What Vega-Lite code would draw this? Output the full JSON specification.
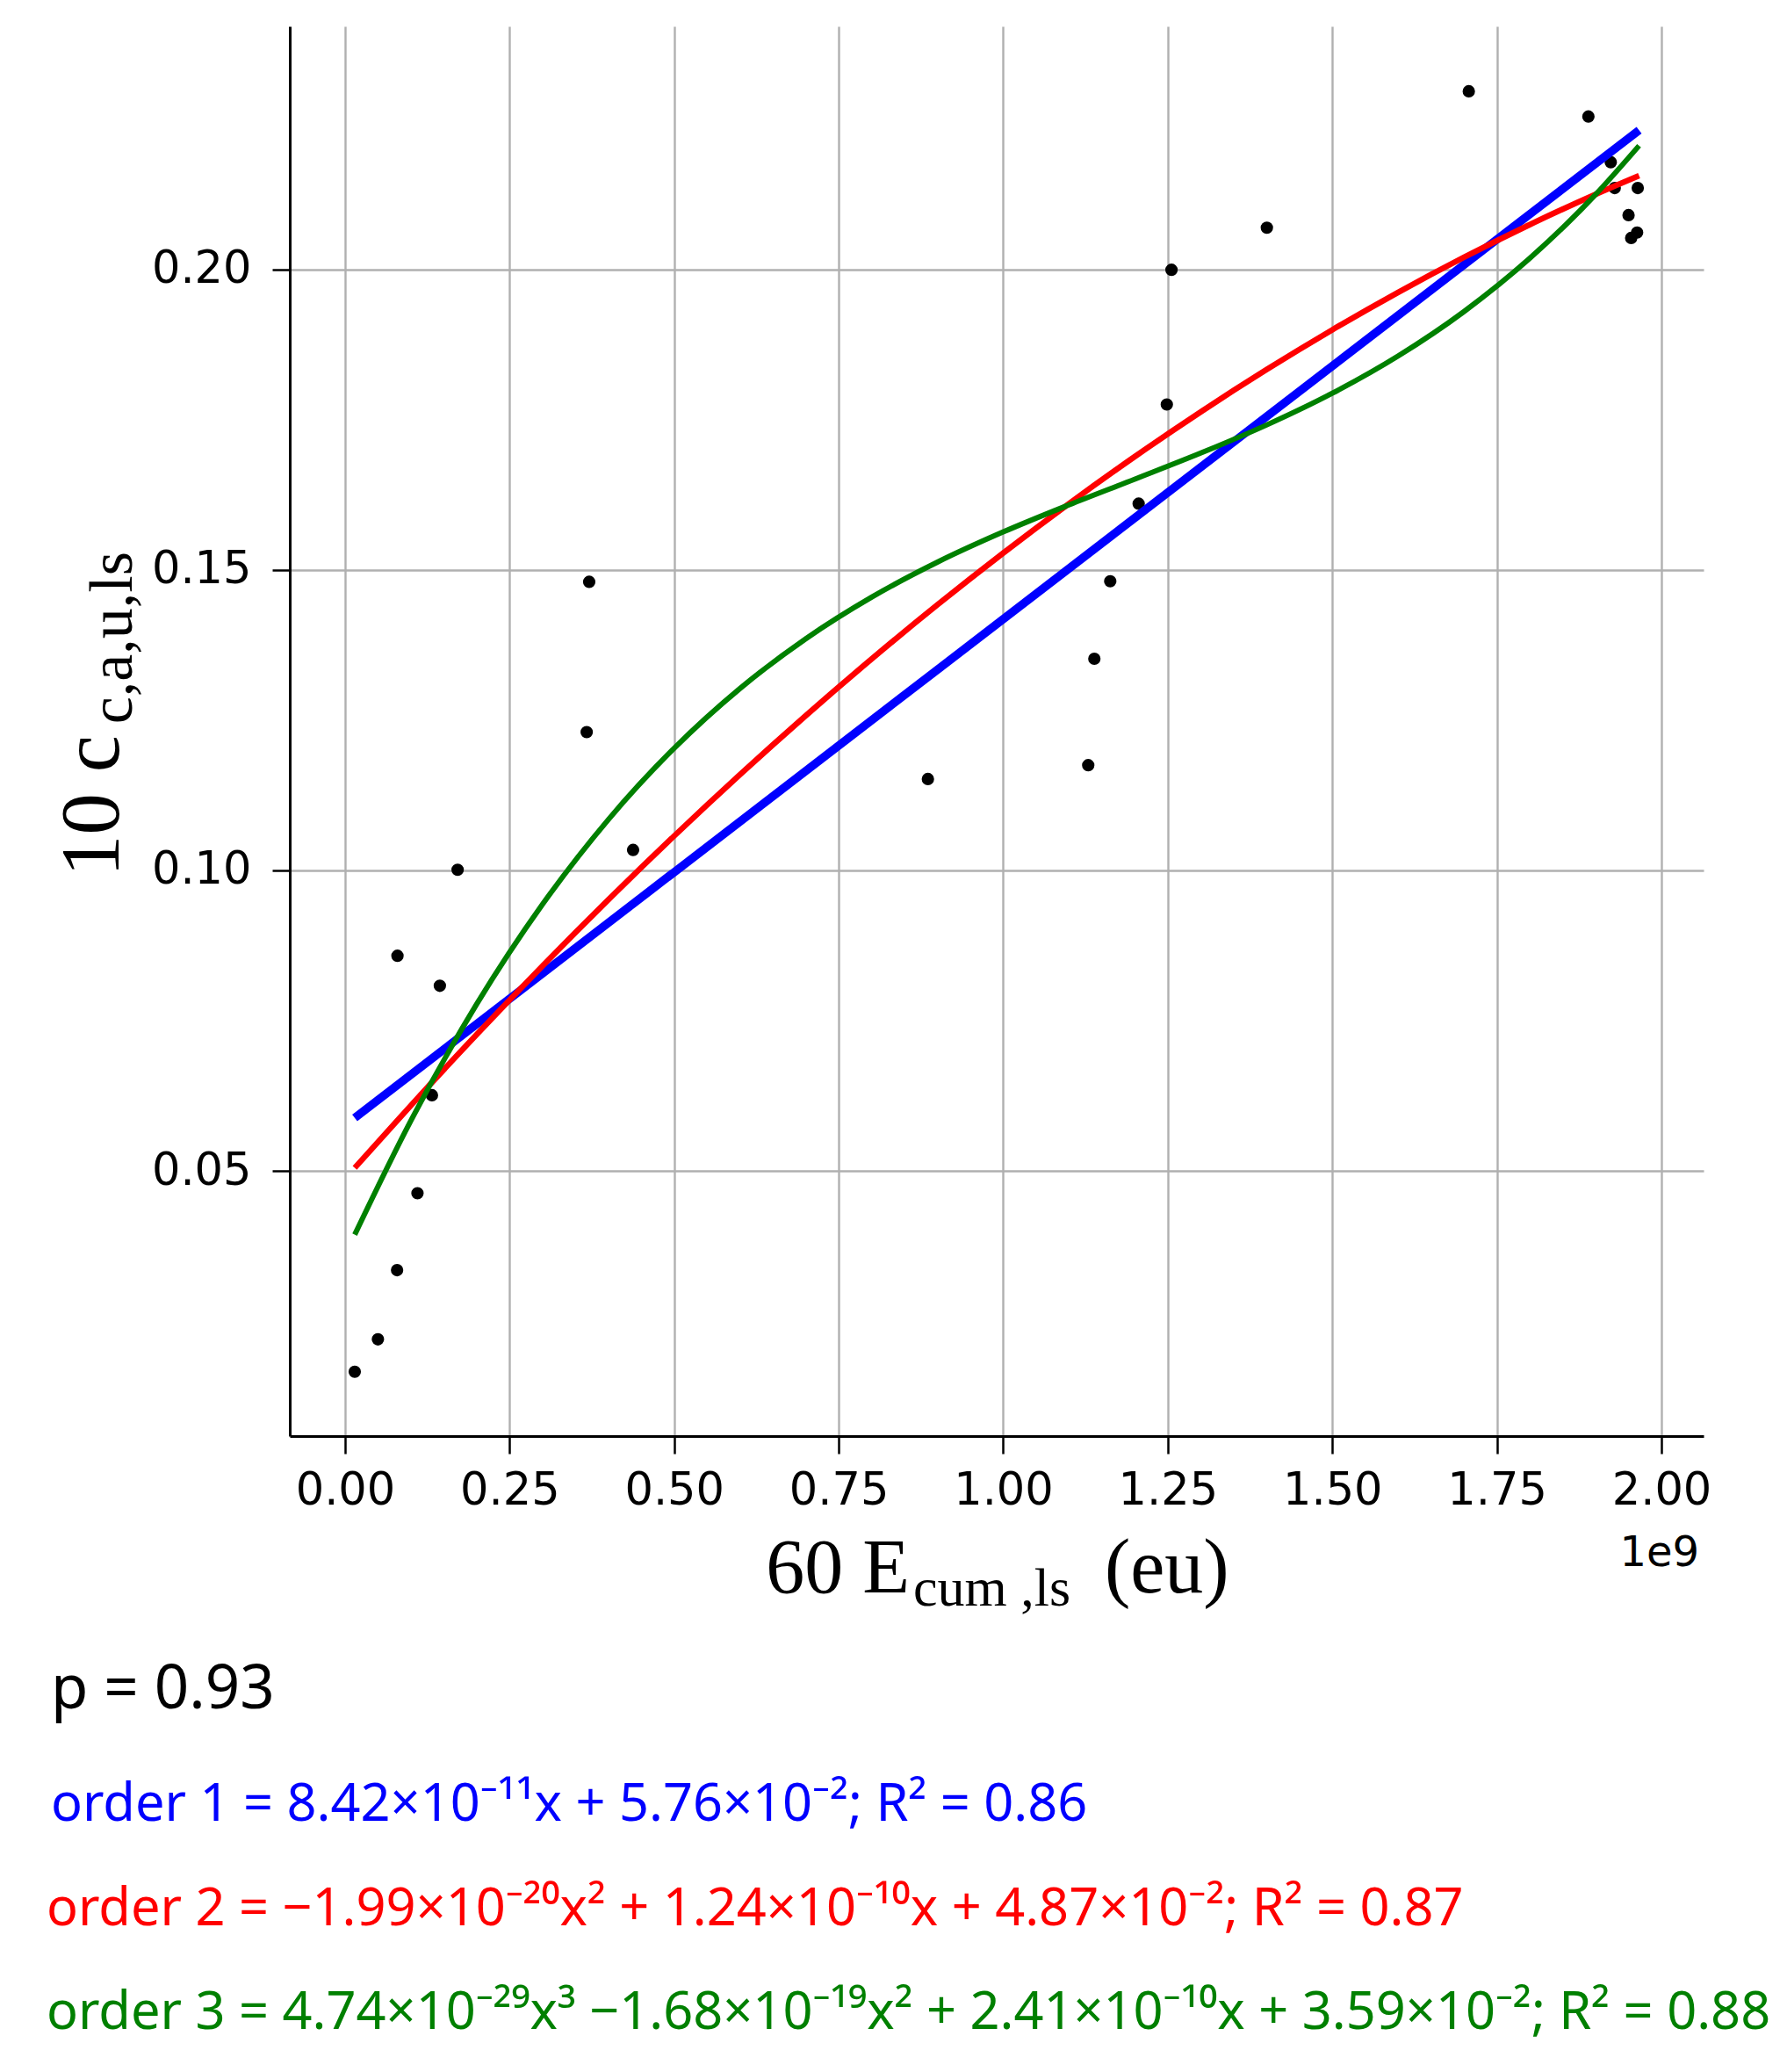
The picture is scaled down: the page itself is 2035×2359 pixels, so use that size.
{
  "$schema": "https://vega.github.io/schema/vega-lite/v6.json",
  "width": 1610,
  "height": 1605,
  "autosize": "none",
  "padding": {"left": 330, "top": 30, "right": 95, "bottom": 724},
  "background": "white",
  "config": {
    "view": {"stroke": null},
    "axis": {
      "labelFont": "DejaVu Sans",
      "labelFontSize": 51,
      "labelColor": "#000000",
      "domainColor": "#000000",
      "domainWidth": 3,
      "tickColor": "#000000",
      "tickWidth": 2.5,
      "tickSize": 20,
      "gridColor": "#b0b0b0",
      "gridWidth": 2.4,
      "labelFlush": false,
      "labelOverlap": false
    }
  },
  "datasets": {
    "points": [
      {"E": 1.47e7, "c": 0.0166},
      {"E": 4.99e7, "c": 0.0220},
      {"E": 7.9e7, "c": 0.0335},
      {"E": 7.96e7, "c": 0.0858},
      {"E": 1.10e8, "c": 0.0463},
      {"E": 1.32e8, "c": 0.0626},
      {"E": 1.44e8, "c": 0.0808},
      {"E": 1.71e8, "c": 0.1001},
      {"E": 3.671e8, "c": 0.1230},
      {"E": 3.709e8, "c": 0.1480},
      {"E": 4.376e8, "c": 0.1034},
      {"E": 8.855e8, "c": 0.1152},
      {"E": 1.1291e9, "c": 0.1175},
      {"E": 1.1384e9, "c": 0.1352},
      {"E": 1.1625e9, "c": 0.1481},
      {"E": 1.2057e9, "c": 0.1610},
      {"E": 1.2485e9, "c": 0.1775},
      {"E": 1.2556e9, "c": 0.1999},
      {"E": 1.4005e9, "c": 0.2069},
      {"E": 1.7073e9, "c": 0.2296},
      {"E": 1.889e9, "c": 0.2254},
      {"E": 1.923e9, "c": 0.2178},
      {"E": 1.929e9, "c": 0.2135},
      {"E": 1.964e9, "c": 0.2135},
      {"E": 1.950e9, "c": 0.2090},
      {"E": 1.963e9, "c": 0.2061},
      {"E": 1.954e9, "c": 0.2052}
    ],
    "order1": [
      {"E": 1.47e7, "c": 0.058838},
      {"E": 1.966e9, "c": 0.223137}
    ],
    "order2": [
      {"E": 1.47e7, "c": 0.050518},
      {"E": 1.0e8, "c": 0.060901},
      {"E": 2.0e8, "c": 0.072704},
      {"E": 3.0e8, "c": 0.084109},
      {"E": 4.0e8, "c": 0.095116},
      {"E": 5.0e8, "c": 0.105725},
      {"E": 6.0e8, "c": 0.115936},
      {"E": 7.0e8, "c": 0.125749},
      {"E": 8.0e8, "c": 0.135164},
      {"E": 9.0e8, "c": 0.144181},
      {"E": 1.0e9, "c": 0.152800},
      {"E": 1.1e9, "c": 0.161021},
      {"E": 1.2e9, "c": 0.168844},
      {"E": 1.3e9, "c": 0.176269},
      {"E": 1.4e9, "c": 0.183296},
      {"E": 1.5e9, "c": 0.189925},
      {"E": 1.6e9, "c": 0.196156},
      {"E": 1.7e9, "c": 0.201989},
      {"E": 1.8e9, "c": 0.207424},
      {"E": 1.9e9, "c": 0.212461},
      {"E": 1.966e9, "c": 0.215560}
    ],
    "order3": [
      {"E": 1.47e7, "c": 0.039407},
      {"E": 1.0e8, "c": 0.058367},
      {"E": 2.0e8, "c": 0.077759},
      {"E": 3.0e8, "c": 0.094360},
      {"E": 4.0e8, "c": 0.108454},
      {"E": 5.0e8, "c": 0.120325},
      {"E": 6.0e8, "c": 0.130258},
      {"E": 7.0e8, "c": 0.138538},
      {"E": 8.0e8, "c": 0.145449},
      {"E": 9.0e8, "c": 0.151275},
      {"E": 1.0e9, "c": 0.156300},
      {"E": 1.1e9, "c": 0.160809},
      {"E": 1.2e9, "c": 0.165087},
      {"E": 1.3e9, "c": 0.169418},
      {"E": 1.4e9, "c": 0.174086},
      {"E": 1.5e9, "c": 0.179375},
      {"E": 1.6e9, "c": 0.185570},
      {"E": 1.7e9, "c": 0.192956},
      {"E": 1.8e9, "c": 0.201817},
      {"E": 1.9e9, "c": 0.212437},
      {"E": 1.966e9, "c": 0.220550}
    ]
  },
  "layer": [
    {
      "data": {"name": "points"},
      "mark": {"type": "circle", "color": "#000000", "opacity": 1, "size": 200},
      "encoding": {
        "x": {
          "field": "E", "type": "quantitative",
          "scale": {"domain": [-8.4e7, 2.064e9], "nice": false, "zero": false},
          "axis": {
            "title": null,
            "values": [0, 2.5e8, 5e8, 7.5e8, 1e9, 1.25e9, 1.5e9, 1.75e9, 2e9],
            "labelExpr": "format(datum.value / 1e9, '.2f')",
            "labelPadding": 17,
            "grid": true
          }
        },
        "y": {
          "field": "c", "type": "quantitative",
          "scale": {"domain": [0.0059, 0.2404], "nice": false, "zero": false},
          "axis": {
            "title": null,
            "values": [0.05, 0.10, 0.15, 0.20],
            "format": ".2f",
            "labelPadding": 24,
            "grid": true
          }
        }
      }
    },
    {
      "data": {"name": "order1"},
      "mark": {"type": "line", "color": "#0000ff", "strokeWidth": 9.5},
      "encoding": {
        "x": {"field": "E", "type": "quantitative", "scale": {"domain": [-8.4e7, 2.064e9], "nice": false, "zero": false}},
        "y": {"field": "c", "type": "quantitative", "scale": {"domain": [0.0059, 0.2404], "nice": false, "zero": false}}
      }
    },
    {
      "data": {"name": "order2"},
      "mark": {"type": "line", "color": "#ff0000", "strokeWidth": 6.5, "interpolate": "monotone"},
      "encoding": {
        "x": {"field": "E", "type": "quantitative", "scale": {"domain": [-8.4e7, 2.064e9], "nice": false, "zero": false}},
        "y": {"field": "c", "type": "quantitative", "scale": {"domain": [0.0059, 0.2404], "nice": false, "zero": false}}
      }
    },
    {
      "data": {"name": "order3"},
      "mark": {"type": "line", "color": "#008000", "strokeWidth": 6, "interpolate": "monotone"},
      "encoding": {
        "x": {"field": "E", "type": "quantitative", "scale": {"domain": [-8.4e7, 2.064e9], "nice": false, "zero": false}},
        "y": {"field": "c", "type": "quantitative", "scale": {"domain": [0.0059, 0.2404], "nice": false, "zero": false}}
      }
    },
    {
      "data": {"values": [{}]},
      "mark": {"type": "text", "text": "60 E", "font": "Liberation Serif", "fontSize": 88, "align": "right", "baseline": "alphabetic", "color": "#000000"},
      "encoding": {
        "x": {"datum": 8.58e8, "type": "quantitative"},
        "y": {"datum": -0.02012, "type": "quantitative"}
      }
    },
    {
      "data": {"values": [{}]},
      "mark": {"type": "text", "text": "cum ,ls", "font": "Liberation Serif", "fontSize": 62, "align": "left", "baseline": "alphabetic", "color": "#000000"},
      "encoding": {
        "x": {"datum": 8.633e8, "type": "quantitative"},
        "y": {"datum": -0.02231, "type": "quantitative"}
      }
    },
    {
      "data": {"values": [{}]},
      "mark": {"type": "text", "text": "(eu)", "font": "Liberation Serif", "fontSize": 88, "align": "left", "baseline": "alphabetic", "color": "#000000"},
      "encoding": {
        "x": {"datum": 1.1541e9, "type": "quantitative"},
        "y": {"datum": -0.02012, "type": "quantitative"}
      }
    },
    {
      "data": {"values": [{}]},
      "mark": {"type": "text", "text": "1e9", "font": "DejaVu Sans", "fontSize": 48, "align": "right", "baseline": "alphabetic", "color": "#000000"},
      "encoding": {
        "x": {"datum": 2.0574e9, "type": "quantitative"},
        "y": {"datum": -0.01574, "type": "quantitative"}
      }
    },
    {
      "data": {"values": [{}]},
      "mark": {"type": "text", "text": "10 c", "font": "Liberation Serif", "fontSize": 95, "angle": 270, "align": "left", "baseline": "alphabetic", "color": "#000000"},
      "encoding": {
        "x": {"datum": -3.442e8, "type": "quantitative"},
        "y": {"datum": 0.09896, "type": "quantitative"}
      }
    },
    {
      "data": {"values": [{}]},
      "mark": {"type": "text", "text": "c,a,u,ls", "font": "Liberation Serif", "fontSize": 70, "angle": 270, "align": "left", "baseline": "alphabetic", "color": "#000000"},
      "encoding": {
        "x": {"datum": -3.242e8, "type": "quantitative"},
        "y": {"datum": 0.12434, "type": "quantitative"}
      }
    },
    {
      "data": {"values": [{}]},
      "mark": {"type": "text", "text": "p = 0.93", "font": "Noto Sans, DejaVu Sans", "fontSize": 69, "align": "left", "baseline": "alphabetic", "color": "#000000"},
      "encoding": {
        "x": {"datum": -4.469e8, "type": "quantitative"},
        "y": {"datum": -0.03941, "type": "quantitative"}
      }
    },
    {
      "data": {"values": [{}]},
      "mark": {"type": "text", "text": "order 1 = 8.42×10⁻¹¹x + 5.76×10⁻²;  R² = 0.86", "font": "Noto Sans, DejaVu Sans", "fontSize": 59.5, "align": "left", "baseline": "alphabetic", "color": "#0000ff"},
      "encoding": {
        "x": {"datum": -4.469e8, "type": "quantitative"},
        "y": {"datum": -0.05811, "type": "quantitative"}
      }
    },
    {
      "data": {"values": [{}]},
      "mark": {"type": "text", "text": "order 2 = −1.99×10⁻²⁰x² + 1.24×10⁻¹⁰x + 4.87×10⁻²; R² = 0.87", "font": "Noto Sans, DejaVu Sans", "fontSize": 59.5, "align": "left", "baseline": "alphabetic", "color": "#ff0000"},
      "encoding": {
        "x": {"datum": -4.536e8, "type": "quantitative"},
        "y": {"datum": -0.0755, "type": "quantitative"}
      }
    },
    {
      "data": {"values": [{}]},
      "mark": {"type": "text", "text": "order 3 = 4.74×10⁻²⁹x³ −1.68×10⁻¹⁹x² + 2.41×10⁻¹⁰x + 3.59×10⁻²; R² = 0.88", "font": "Noto Sans, DejaVu Sans", "fontSize": 59.5, "align": "left", "baseline": "alphabetic", "color": "#008000"},
      "encoding": {
        "x": {"datum": -4.536e8, "type": "quantitative"},
        "y": {"datum": -0.09274, "type": "quantitative"}
      }
    }
  ]
}
